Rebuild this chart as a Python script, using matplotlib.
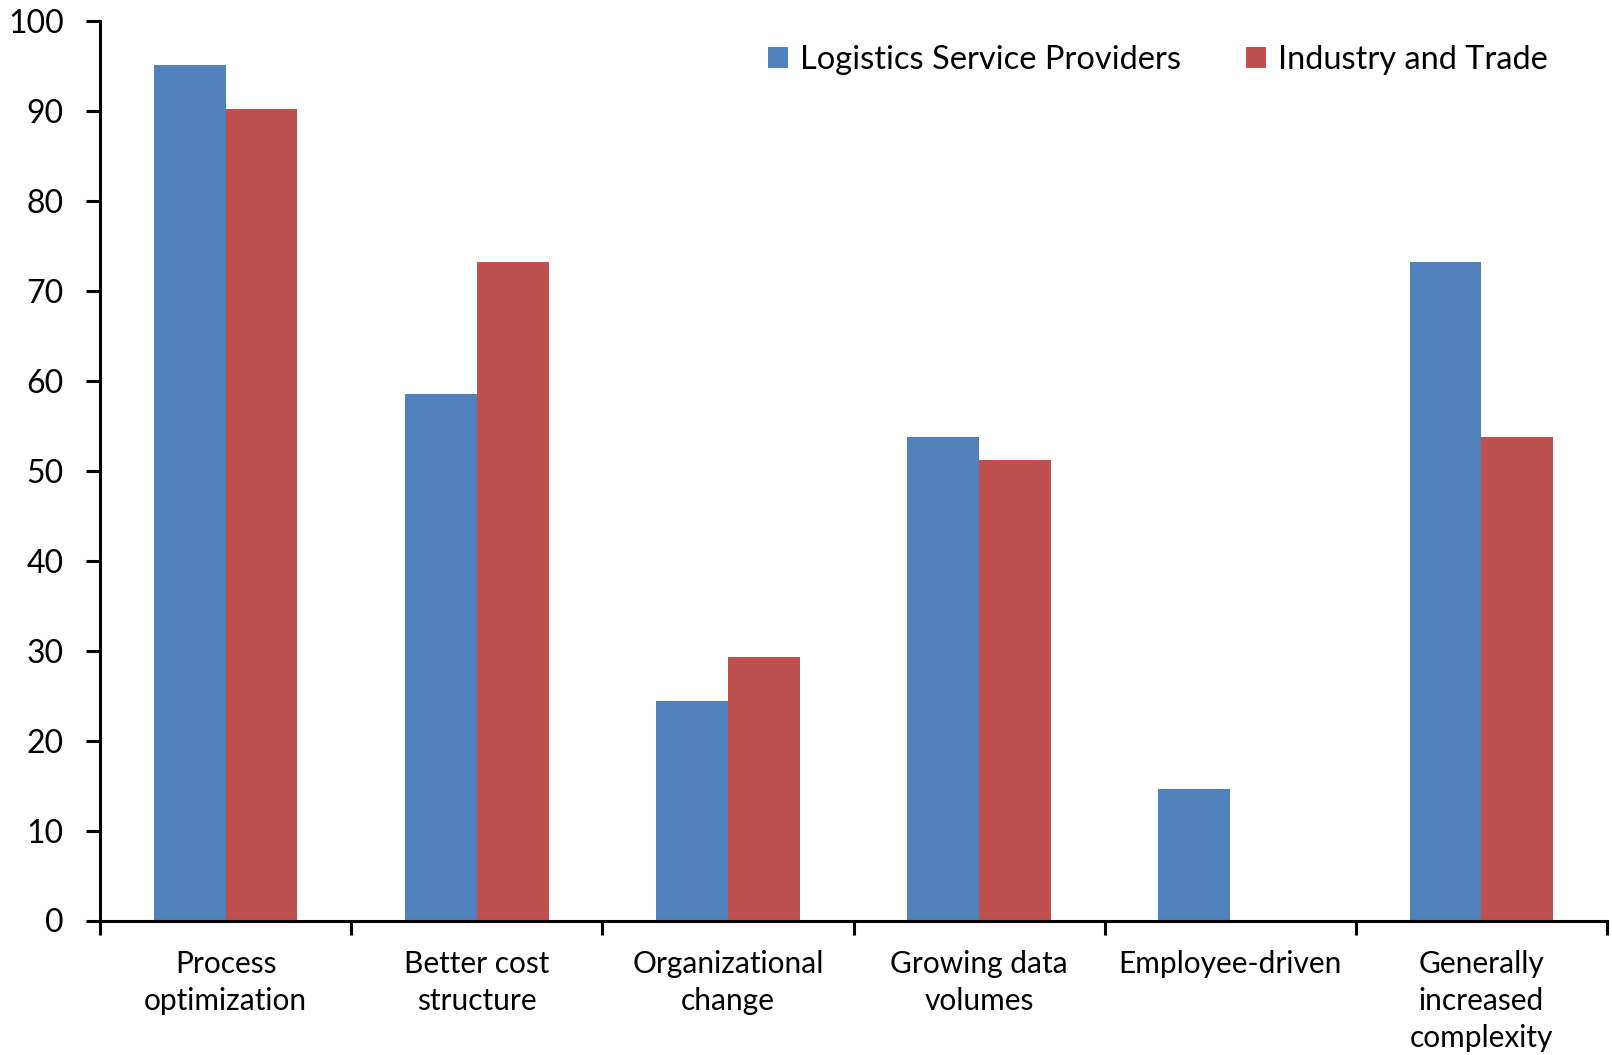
import matplotlib
matplotlib.use("Agg")
import matplotlib.pyplot as plt
import numpy as np

categories = ["Process\noptimization", "Better cost\nstructure", "Organizational\nchange",
              "Growing data\nvolumes", "Employee-driven", "Generally\nincreased\ncomplexity"]
series_names = ["Logistics Service Providers", "Industry and Trade"]
lsp = [95.1, 58.5, 24.4, 53.7, 14.6, 73.2]
iat = [90.2, 73.2, 29.3, 51.2, 0.0, 53.7]
yticks = [0, 10, 20, 30, 40, 50, 60, 70, 80, 90, 100]

plt.rcParams['font.family'] = ['Lato', 'DejaVu Sans']

W, H = 1612, 1055
fig = plt.figure(figsize=(W / 100, H / 100), dpi=100)
ax = fig.add_axes([100 / W, 1 - 920.5 / H, (1607 - 100) / W, (920.5 - 21) / H])

x = np.arange(len(categories))
w = 1 / 3.5
ax.bar(x - w / 2, lsp, w, color="#4F81BD", label=series_names[0])
ax.bar(x + w / 2, iat, w, color="#C0504D", label=series_names[1])

ax.set_xlim(-0.5, len(categories) - 0.5)
ax.set_ylim(0, 100)
ax.set_yticks(yticks)
ax.set_yticklabels([str(t) for t in yticks], fontsize=23)
ax.set_xticks(x)
ax.set_xticklabels(categories, fontsize=21.5, linespacing=1.39, va="top")
ax.tick_params(axis="x", which="major", length=0, pad=21)
ax.set_xticks(np.arange(-0.5, len(categories), 1), minor=True)
ax.tick_params(axis="x", which="minor", length=10, width=2.2, direction="out")
ax.tick_params(axis="y", length=10, width=2.2, direction="out", pad=16)

for s in ["top", "right"]:
    ax.spines[s].set_visible(False)
for s in ["left", "bottom"]:
    ax.spines[s].set_linewidth(2.2)

ax.legend(loc="upper right", bbox_to_anchor=(0.98, 1.006), ncol=2, frameon=False,
          fontsize=23.5, handlelength=0.62, handleheight=0.62, handletextpad=0.35,
          columnspacing=2.0)

fig.savefig("out.png", dpi=100)
